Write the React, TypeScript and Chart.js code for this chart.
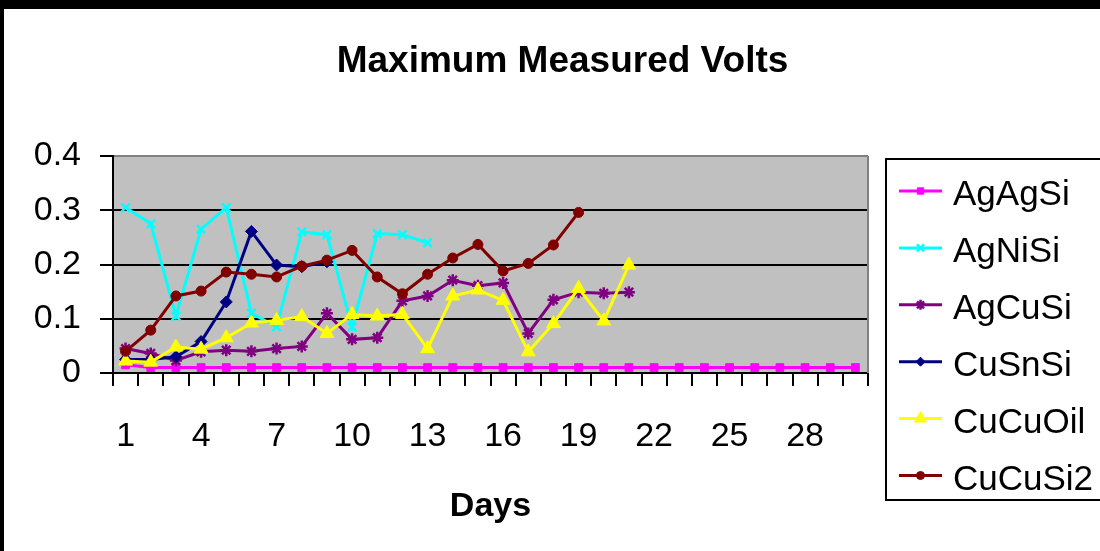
import { useEffect, useRef } from 'react';
import { Chart, registerables } from 'chart.js';
import { drawPoint } from 'chart.js/helpers';

Chart.register(...registerables);

const FONT = "'Liberation Sans', Arial, sans-serif";

const days = ['1','2','3','4','5','6','7','8','9','10','11','12','13','14','15','16','17','18','19','20','21','22','23','24','25','26','27','28','29','30'];

const agAgSi = [0.015,0.01,0.01,0.01,0.01,0.01,0.01,0.01,0.01,0.01,0.01,0.01,0.01,0.01,0.01,0.01,0.01,0.01,0.01,0.01,0.01,0.01,0.01,0.01,0.01,0.01,0.01,0.01,0.01,0.01];
const agNiSi = [0.305,0.275,0.105,0.265,0.305,0.11,0.085,0.26,0.255,0.085,0.257,0.255,0.24];
const agCuSi = [0.045,0.036,0.023,0.039,0.042,0.04,0.045,0.049,0.11,0.062,0.065,0.133,0.142,0.171,0.161,0.166,0.073,0.135,0.149,0.147,0.149];
const cuSnSi = [0.025,0.025,0.03,0.058,0.131,0.261,0.199,0.196,0.205];
const cuCuOil = [0.022,0.02,0.048,0.044,0.065,0.092,0.097,0.104,0.073,0.108,0.105,0.108,0.045,0.142,0.153,0.134,0.039,0.091,0.156,0.096,0.199];
const cuCuSi2 = [0.04,0.079,0.142,0.151,0.186,0.182,0.177,0.197,0.208,0.226,0.177,0.146,0.182,0.212,0.237,0.188,0.202,0.236,0.296];

const yTicks = ['0','0.1','0.2','0.3','0.4'];
const xLabelEvery = 3;

const series = [
  { label: 'AgAgSi', data: agAgSi, color: '#FF00FF', style: 'rect', radius: 5.5, pbw: 1, lr: 4.5 },
  { label: 'AgNiSi', data: agNiSi, color: '#00FFFF', style: 'crossRot', radius: 6, pbw: 2.5, lr: 5 },
  { label: 'AgCuSi', data: agCuSi, color: '#800080', style: 'star', radius: 6, pbw: 2.5, lr: 5 },
  { label: 'CuSnSi', data: cuSnSi, color: '#000080', style: 'rectRot', radius: 6, pbw: 1, lr: 4.5 },
  { label: 'CuCuOil', data: cuCuOil, color: '#FFFF00', style: 'triangle', radius: 8, pbw: 1, lr: 7 },
  { label: 'CuCuSi2', data: cuCuSi2, color: '#800000', style: 'circle', radius: 5, pbw: 1, lr: 4 },
];

const framePlugin = {
  id: 'frame',
  beforeDraw(chart: any) {
    const { ctx, chartArea: a } = chart;
    ctx.save();
    ctx.fillStyle = '#fff';
    ctx.fillRect(0, 0, chart.width, chart.height);
    ctx.fillStyle = '#000';
    ctx.fillRect(0, 0, chart.width, 9);
    ctx.fillRect(0, 0, 4, chart.height);
    ctx.fillStyle = '#C0C0C0';
    ctx.fillRect(a.left, a.top, a.right - a.left, a.bottom - a.top);
    // title
    ctx.fillStyle = '#000';
    ctx.font = `bold 37px ${FONT}`;
    ctx.textAlign = 'center';
    ctx.textBaseline = 'alphabetic';
    ctx.fillText('Maximum Measured Volts', 562.5, 71.5);
    ctx.restore();
  },
  beforeDatasetsDraw(chart: any) {
    const { ctx, chartArea: a } = chart;
    ctx.save();
    ctx.strokeStyle = '#808080';
    ctx.lineWidth = 2;
    ctx.beginPath();
    ctx.moveTo(a.right, a.top);
    ctx.lineTo(a.right, a.bottom);
    ctx.stroke();
    ctx.restore();
  },
  afterDraw(chart: any) {
    const { ctx } = chart;
    ctx.save();
    ctx.strokeStyle = '#000';
    ctx.lineWidth = 2;
    ctx.strokeRect(886, 159, 260, 341);
    chart.data.datasets.forEach((ds: any, i: number) => {
      const y = 191 + i * 56.9;
      ctx.strokeStyle = ds.borderColor;
      ctx.lineWidth = 3;
      ctx.beginPath();
      ctx.moveTo(899, y);
      ctx.lineTo(942, y);
      ctx.stroke();
      ctx.fillStyle = ds.borderColor;
      ctx.strokeStyle = ds.borderColor;
      ctx.lineWidth = ds.pointBorderWidth;
      drawPoint(ctx, { pointStyle: ds.pointStyle, radius: ds.legendRadius, borderWidth: ds.pointBorderWidth, rotation: 0 } as any, 920.5, y);
      ctx.fillStyle = '#000';
      ctx.font = `35px ${FONT}`;
      ctx.textAlign = 'left';
      ctx.textBaseline = 'alphabetic';
      ctx.fillText(ds.label, 953, y + 14);
    });
    ctx.restore();
  },
};

export default function App() {
  const ref = useRef<HTMLCanvasElement>(null);
  useEffect(() => {
    if (!ref.current) return;
    const chart = new Chart(ref.current, {
      type: 'line',
      data: {
        labels: days,
        datasets: series.map((s, i) => ({
          label: s.label,
          data: s.data,
          borderColor: s.color,
          backgroundColor: s.color,
          pointBackgroundColor: s.color,
          pointBorderColor: s.color,
          pointStyle: s.style,
          pointRadius: s.radius,
          pointBorderWidth: s.pbw,
          borderWidth: 3,
          tension: 0,
          fill: false,
          spanGaps: false,
          order: series.length - i,
          legendRadius: s.lr,
        })) as any,
      },
      options: {
        animation: false,
        responsive: false,
        devicePixelRatio: 1,
        events: [],
        layout: { padding: { left: 0, top: 156, right: 232, bottom: 0 } },
        plugins: { legend: { display: false }, title: { display: false }, tooltip: { enabled: false } },
        scales: {
          x: {
            type: 'category',
            offset: true,
            afterFit(scale: any) { scale.height = 178; },
            grid: { offset: true, drawOnChartArea: false, drawTicks: true, tickLength: 13, color: '#000', lineWidth: 2 },
            border: { display: true, color: '#000', width: 2 },
            ticks: {
              autoSkip: false,
              maxRotation: 0,
              padding: 30,
              color: '#000',
              font: { family: FONT, size: 34 },
              callback: (_v: any, i: number) => (i % xLabelEvery === 0 ? days[i] : ''),
            },
            title: { display: true, text: 'Days', color: '#000', font: { family: FONT, size: 34, weight: 'bold' }, padding: { top: 0, bottom: 24 } },
          },
          y: {
            min: 0,
            max: 0.4,
            afterFit(scale: any) { scale.width = 113; },
            afterBuildTicks(scale: any) { scale.ticks = yTicks.map((t) => ({ value: parseFloat(t) })); },
            grid: {
              drawTicks: true,
              tickLength: 13,
              lineWidth: 2,
              color: (c: any) => (c.tick && c.tick.value >= 0.4 ? '#808080' : '#000'),
              tickColor: '#000',
            },
            border: { display: true, color: '#000', width: 2 },
            ticks: {
              padding: 19,
              color: '#000',
              font: { family: FONT, size: 34 },
              callback: (v: any) => yTicks[Math.round(Number(v) * 10)],
            },
          },
        },
      },
      plugins: [framePlugin],
    });
    return () => chart.destroy();
  }, []);
  return (
    <div style={{ position: 'absolute', left: 0, top: 0, width: 1100, height: 551 }}>
      <canvas ref={ref} width={1100} height={551} style={{ width: 1100, height: 551, display: 'block' }} />
    </div>
  );
}
